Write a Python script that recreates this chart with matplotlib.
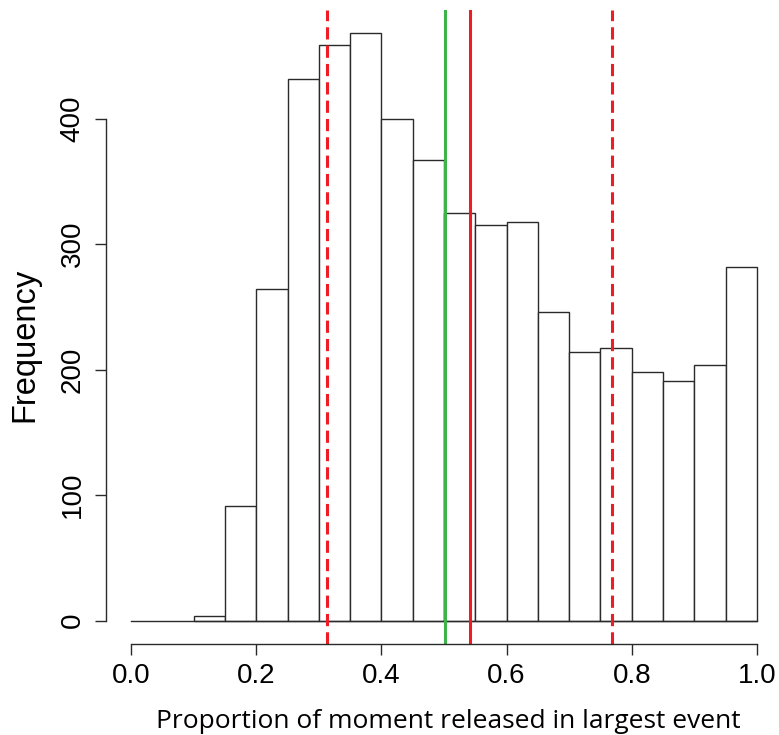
import numpy as np
import matplotlib
matplotlib.use("Agg")
import matplotlib.pyplot as plt

plt.rcParams['font.family'] = ['Liberation Sans', 'DejaVu Sans']

# histogram bins (width 0.05) and counts
bin_edges = np.arange(0.10, 1.0001, 0.05)
counts = [4, 91, 264, 432, 459, 468, 400, 367, 325, 315, 318, 246,
          214, 217, 198, 191, 204, 282]

# vertical reference lines
red_dashed = [0.313, 0.769]
red_solid = 0.541
green_solid = 0.502

W, H = 779, 735
fig = plt.figure(figsize=(W / 100, H / 100), dpi=100)
ax = fig.add_axes([106 / W, 91 / H, 676 / W, 634 / H])

edge = '#2a2a2a'
ax.bar(bin_edges[:-1], counts, width=0.05, align='edge',
       facecolor='white', edgecolor=edge, linewidth=1.0)
ax.plot([0, 1], [0, 0], color=edge, linewidth=1.0)

for x in red_dashed:
    ax.axvline(x, color='#ee1c24', linewidth=2.2, linestyle=(0, (4, 2)))
ax.axvline(green_solid, color='#3cb44a', linewidth=2.2)
ax.axvline(red_solid, color='#ee1c24', linewidth=2.2)

ax.set_xlim(-0.04, 1.04)
ax.set_ylim(-18.72, 486.72)

ax.spines['top'].set_visible(False)
ax.spines['right'].set_visible(False)
ax.spines['left'].set_bounds(0, 400)
ax.spines['bottom'].set_bounds(0, 1)
for s in ['left', 'bottom']:
    ax.spines[s].set_color(edge)
    ax.spines[s].set_linewidth(1.0)

ax.set_xticks(np.arange(0, 1.01, 0.2))
ax.set_xticklabels(['0.0', '0.2', '0.4', '0.6', '0.8', '1.0'])
ax.set_yticks([0, 100, 200, 300, 400])
ax.tick_params(axis='both', direction='out', length=8, width=1.0,
               color=edge, labelsize=20)
ax.tick_params(axis='x', pad=5.5)
ax.tick_params(axis='y', pad=6.5)
for lab in ax.get_yticklabels():
    lab.set_rotation(90)
    lab.set_va('center')

# axis titles placed in figure pixels
fig.text(25 / W, (H - 345) / H, 'Frequency', rotation=90, fontsize=23.5,
         ha='center', va='center')
xl = fig.text(448 / W, (H - 728) / H,
              'Proportion of moment released in largest event',
              fontsize=19, ha='center', va='baseline',
              family=['Open Sans', 'Liberation Sans'])
fig.canvas.draw()
w = xl.get_window_extent().width
xl.set_fontsize(19 * 585 / w)

fig.savefig('out.png', dpi=100)
